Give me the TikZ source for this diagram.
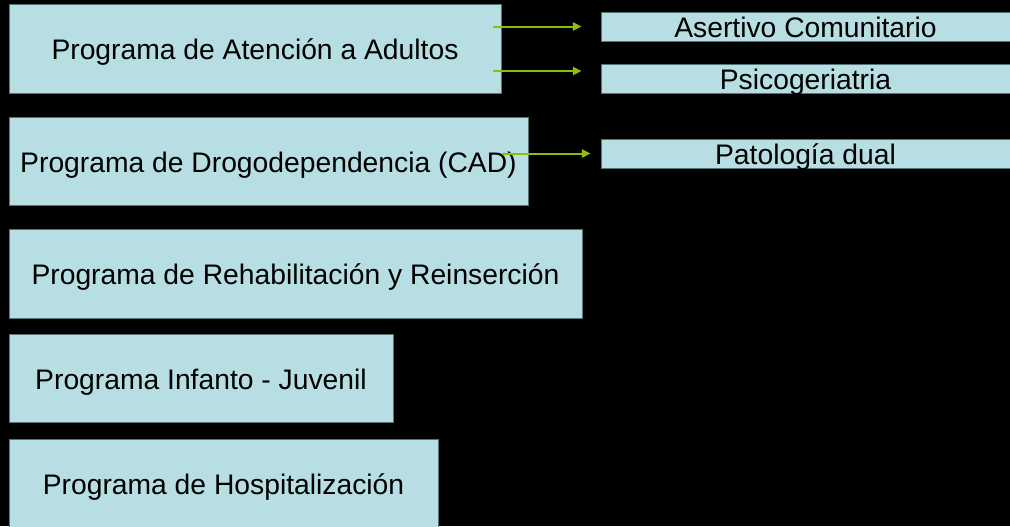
\documentclass[tikz,border=0pt]{standalone}
\usepackage{fontspec}
\setmainfont{Liberation Sans}
\usetikzlibrary{%
        arrows.meta,
        calc
    }
\definecolor{cajaazul}{RGB}{183,223,227}
\definecolor{bordecaja}{RGB}{85,115,120}
\definecolor{verdeflecha}{RGB}{140,190,10}
\tikzset{%
    programa/.style={%
        fill=cajaazul, draw=bordecaja, line width=0.6pt,
        inner sep=0pt, text height=17pt, text depth=0pt,
        font=\fontsize{21.2}{25}\selectfont
    },
    flecha/.style={%
        -{Triangle[length=6.5pt, width=6pt]},
        verdeflecha, line width=1.5pt
    }
}

\begin{document}
\begin{tikzpicture}[x=0.75pt, y=-0.75pt]

    \useasboundingbox (0, 0) rectangle (1010, 526);
    \fill[black] (0, 0) rectangle (1010, 526);
    \clip (0, 0) rectangle (1010, 526);

    % Programas
    \node[programa, minimum width=369pt, minimum height=66.75pt] (adultos)
        at (255, 48.5) {Programa de Atención a Adultos};
    \node[programa, minimum width=389.25pt, minimum height=66pt] (drogo)
        at (268.5, 161) {Programa de Drogodependencia (CAD)};
    \node[programa, minimum width=429.75pt, minimum height=66.75pt] (rehab)
        at (295.5, 273.5) {Programa de Rehabilitación y Reinserción};
    \node[programa, minimum width=288pt, minimum height=66pt] (infanto)
        at (201, 378) {Programa Infanto - Juvenil};
    \node[programa, minimum width=321.75pt, minimum height=66pt] (hospital)
        at (223.5, 483) {Programa de Hospitalización};

    % Subprogramas
    \node[programa, minimum width=306.75pt, minimum height=21.75pt] (asertivo)
        at (805.5, 26.5) {Asertivo Comunitario};
    \node[programa, minimum width=306.75pt, minimum height=21.75pt] (psico)
        at (805.5, 78.5) {Psicogeriatria};
    \node[programa, minimum width=306.75pt, minimum height=21.75pt] (dual)
        at (805.5, 153.5) {Patología dual};

    % Flechas
    \draw[flecha]
        ($(adultos.east |- asertivo.west) + (-8, 0)$) --
        ($(asertivo.west) + (-19, 0)$);
    \draw[flecha]
        ($(adultos.east |- psico.west) + (-8, -7.5)$) --
        ($(psico.west) + (-19, -7.5)$);
    \draw[flecha]
        ($(drogo.east |- dual.west) + (-26, 0)$) --
        ($(dual.west) + (-10, 0)$);

\end{tikzpicture}
\end{document}
